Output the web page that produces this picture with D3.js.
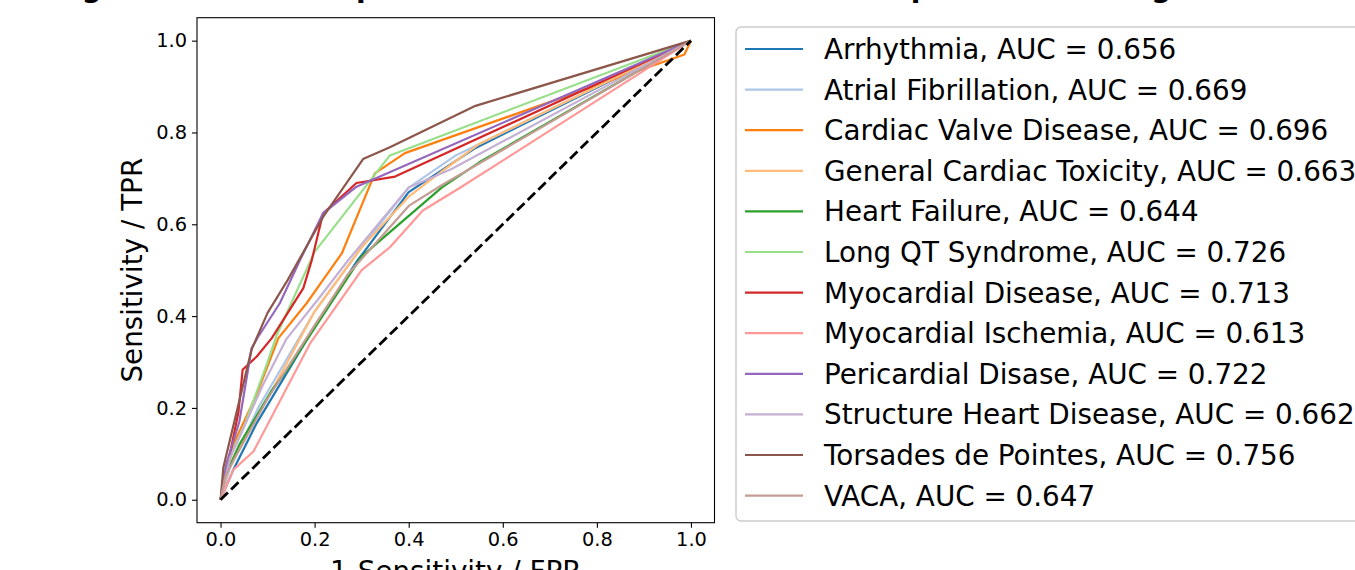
<!DOCTYPE html>
<html>
<head>
<meta charset="utf-8">
<script src="https://cdn.jsdelivr.net/npm/d3@7"></script>
<style>
  body { margin: 0; background: white; }
  svg { display: block; font-family: "DejaVu Sans", sans-serif; }
</style>
</head>
<body>
<div id="vis"></div>
<script>
// ROC curves, one array of [fpr, tpr] per label
const arrhythmia = [[0,0],[0.027,0.065],[0.077,0.167],[0.2,0.377],[0.29,0.52],[0.303,0.537],[0.4,0.67],[0.54,0.765],[1,1]];
const atrialFib = [[0,0],[0.02,0.07],[0.08,0.2],[0.2,0.41],[0.3,0.55],[0.4,0.68],[0.5,0.75],[1,1]];
const valve = [[0,0],[0.027,0.12],[0.077,0.23],[0.123,0.352],[0.183,0.428],[0.218,0.479],[0.258,0.537],[0.328,0.711],[0.392,0.755],[0.986,0.97],[1,1]];
const generalTox = [[0,0],[0.02,0.08],[0.06,0.15],[0.1,0.22],[0.2,0.41],[0.3,0.55],[0.4,0.66],[0.47,0.715],[0.55,0.775],[1,1]];
const heartFailure = [[0,0],[0.01,0.05],[0.04,0.12],[0.11,0.24],[0.14,0.28],[0.3,0.53],[0.47,0.68],[0.55,0.735],[1,1]];
const longQT = [[0,0],[0.01,0.07],[0.05,0.16],[0.1,0.3],[0.12,0.36],[0.2,0.54],[0.36,0.75],[1,1]];
const myoDisease = [[0,0],[0.02,0.1],[0.038,0.19],[0.047,0.283],[0.077,0.312],[0.109,0.352],[0.176,0.461],[0.194,0.522],[0.218,0.624],[0.289,0.69],[0.371,0.704],[1,1]];
const myoIschemia = [[0,0],[0.027,0.065],[0.07,0.105],[0.19,0.34],[0.3,0.5],[0.36,0.55],[0.43,0.63],[0.51,0.68],[1,1]];
const pericardial = [[0,0],[0.013,0.08],[0.04,0.17],[0.066,0.33],[0.08,0.355],[0.126,0.428],[0.169,0.522],[0.218,0.624],[0.289,0.682],[1,1]];
const structure = [[0,0],[0.02,0.09],[0.09,0.25],[0.14,0.35],[0.21,0.44],[0.27,0.52],[0.4,0.68],[0.49,0.72],[1,1]];
const torsades = [[0,0],[0.006,0.07],[0.066,0.327],[0.1,0.407],[0.143,0.479],[0.218,0.616],[0.303,0.742],[0.36,0.768],[0.542,0.858],[1,1]];
const vaca = [[0,0],[0.01,0.05],[0.03,0.09],[0.1,0.22],[0.2,0.38],[0.27,0.49],[0.4,0.64],[0.47,0.685],[1,1]];

const curves = [arrhythmia, atrialFib, valve, generalTox, heartFailure, longQT,
  myoDisease, myoIschemia, pericardial, structure, torsades, vaca];

const labels = ["Arrhythmia", "Atrial Fibrillation", "Cardiac Valve Disease",
  "General Cardiac Toxicity", "Heart Failure", "Long QT Syndrome",
  "Myocardial Disease", "Myocardial Ischemia", "Pericardial Disase",
  "Structure Heart Disease", "Torsades de Pointes", "VACA"];
const aucs = [0.656, 0.669, 0.696, 0.663, 0.644, 0.726, 0.713, 0.613, 0.722, 0.662, 0.756, 0.647];

const xTicks = [0, 0.2, 0.4, 0.6, 0.8, 1.0];
const yTicks = [0, 0.2, 0.4, 0.6, 0.8, 1.0];

// tab20 colours, first 12
const palette = ["#1f77b4", "#aec7e8", "#ff7f0e", "#ffbb78", "#2ca02c", "#98df8a",
  "#d62728", "#ff9896", "#9467bd", "#c5b0d5", "#8c564b", "#c49c94"];

const W = 1355, H = 570;
const plot = { left: 197, right: 714.5, top: 17.7, bottom: 522.7 };

const svg = d3.select("#vis").append("svg")
  .attr("width", W)
  .attr("height", H);

// title, mostly above the picture
svg.append("text")
  .attr("x", 53)
  .attr("y", -3)
  .attr("font-size", 28)
  .attr("font-weight", "bold")
  .text("Figure 2: ROC of Top Model for Cardiac Side Effects Replication Testing");

// matplotlib style 5% margins
const x = d3.scaleLinear()
  .domain([-0.05, 1.05])
  .range([plot.left, plot.right]);
const y = d3.scaleLinear()
  .domain([-0.05, 1.05])
  .range([plot.bottom, plot.top]);

const line = d3.line()
  .x(d => x(d[0]))
  .y(d => y(d[1]));

const g = svg.append("g");

g.selectAll("path.roc")
  .data(curves)
  .join("path")
  .attr("class", "roc")
  .attr("d", line)
  .attr("fill", "none")
  .attr("stroke", (d, i) => palette[i])
  .attr("stroke-width", 2.2)
  .attr("stroke-linejoin", "round");

// chance line
g.append("path")
  .attr("d", line([[0, 0], [1, 1]]))
  .attr("fill", "none")
  .attr("stroke", "black")
  .attr("stroke-width", 2.8)
  .attr("stroke-dasharray", "10.3,4.5");

// axes
const xAxis = svg.append("g")
  .attr("transform", `translate(0,${plot.bottom})`)
  .call(d3.axisBottom(x).tickValues(xTicks).tickFormat(d3.format(".1f"))
    .tickSizeInner(5).tickSizeOuter(0).tickPadding(5));
const yAxis = svg.append("g")
  .attr("transform", `translate(${plot.left},0)`)
  .call(d3.axisLeft(y).tickValues(yTicks).tickFormat(d3.format(".1f"))
    .tickSizeInner(5).tickSizeOuter(0).tickPadding(5));

[xAxis, yAxis].forEach(a => {
  a.select(".domain").remove();
  a.selectAll(".tick line").attr("stroke", "black").attr("stroke-width", 1.1);
  a.selectAll(".tick text")
    .attr("font-family", "DejaVu Sans")
    .attr("font-size", 19.4)
    .attr("fill", "black");
});

svg.append("rect")
  .attr("x", plot.left)
  .attr("y", plot.top)
  .attr("width", plot.right - plot.left)
  .attr("height", plot.bottom - plot.top)
  .attr("fill", "none")
  .attr("stroke", "black")
  .attr("stroke-width", 1.1);

// axis labels
svg.append("text")
  .attr("x", (plot.left + plot.right) / 2)
  .attr("y", 581)
  .attr("text-anchor", "middle")
  .attr("font-size", 27.8)
  .text("1-Sensitivity / FPR");

svg.append("text")
  .attr("transform", `translate(142,${(plot.top + plot.bottom) / 2}) rotate(-90)`)
  .attr("text-anchor", "middle")
  .attr("font-size", 27.8)
  .text("Sensitivity / TPR");

// legend
const legend = svg.append("g").attr("transform", "translate(736,27)");
legend.append("rect")
  .attr("x", 0)
  .attr("y", 0)
  .attr("width", 680)
  .attr("height", 494)
  .attr("rx", 5)
  .attr("fill", "white")
  .attr("fill-opacity", 0.8)
  .attr("stroke", "#cccccc")
  .attr("stroke-width", 1.4);

const rows = legend.selectAll("g.row")
  .data(labels)
  .join("g")
  .attr("class", "row")
  .attr("transform", (d, i) => `translate(0,${22 + i * 40.6})`);

rows.append("line")
  .attr("x1", 9)
  .attr("x2", 67)
  .attr("stroke", (d, i) => palette[i])
  .attr("stroke-width", 2.2);

rows.append("text")
  .attr("x", 88)
  .attr("y", 10)
  .attr("font-size", 27.8)
  .text((d, i) => `${d}, AUC = ${aucs[i].toFixed(3)}`);
</script>
</body>
</html>
